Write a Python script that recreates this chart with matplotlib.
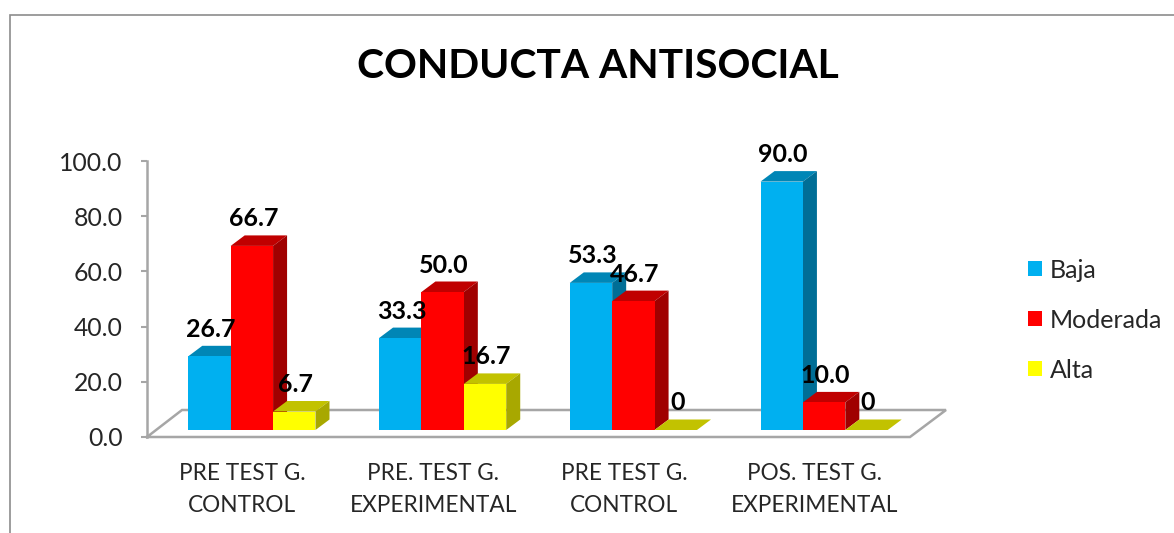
import matplotlib
matplotlib.use('Agg')
import matplotlib.pyplot as plt
from matplotlib.patches import Polygon, Patch
from matplotlib.lines import Line2D

plt.rcParams['font.family'] = ['Lato', 'DejaVu Sans']

categories = ['PRE TEST G.\nCONTROL', 'PRE. TEST G.\nEXPERIMENTAL',
              'PRE TEST G.\nCONTROL', 'POS. TEST G.\nEXPERIMENTAL']
baja = [26.7, 33.3, 53.3, 90.0]
moderada = [66.7, 50.0, 46.7, 10.0]
alta = [6.7, 16.7, 0, 0]
yticks = [0, 20, 40, 60, 80, 100]

# front, top, side colours
colors = {
    'Baja': ('#00B0F0', '#0086B6', '#006E96'),
    'Moderada': ('#FF0000', '#C00000', '#A00000'),
    'Alta': ('#FFFF00', '#C2C200', '#A8A800'),
}

W, H = 1174, 533
fig = plt.figure(figsize=(W / 100, H / 100), dpi=100)

# axes box in pixels
left, right, top, bottom = 147, 910, 161, 437
ax = fig.add_axes([left / W, 1 - bottom / H, (right - left) / W, (bottom - top) / H])
ax.set_xlim(-0.5, 3.5)
ax.set_ylim(0, 100)

px_x = 4 / (right - left)
px_y = 100 / (bottom - top)

GRAY = '#A6A6A6'
for s in ['top', 'right', 'bottom']:
    ax.spines[s].set_visible(False)
ax.spines['left'].set_color(GRAY)
ax.spines['left'].set_linewidth(1.8)

# floor of the fake 3d box
xl, xr = ax.get_xlim()
floor_x = [xl, xr, xr + 36 * px_x, xl + 35 * px_x, xl]
floor_y = [0, 0, 27 * px_y, 27 * px_y, 0]
ax.plot(floor_x, floor_y, color=GRAY, lw=1.8, clip_on=False, zorder=1, solid_joinstyle='miter')

ax.set_yticks(yticks)
ax.set_yticklabels(['%.1f' % v for v in yticks], fontsize=17.8, color='#262626')
ax.tick_params(axis='y', length=4.5, width=1.5, color=GRAY, pad=13)
ax.set_xticks(range(len(categories)))
ax.set_xticklabels(categories, fontsize=16.3, color='#262626', linespacing=1.6)
ax.tick_params(axis='x', length=0, pad=19)

bar_w = 42.4 * px_x
dx = 14 * px_x
dy = 10.5 * px_y
base = 7 * px_y
first = (188.3 - 242.4) * px_x

series = [('Baja', baja), ('Moderada', moderada), ('Alta', alta)]
for j, (name, vals) in enumerate(series):
    front, topc, side = colors[name]
    for i, v in enumerate(vals):
        x0 = i + first + j * bar_w
        x1 = x0 + bar_w
        y0 = base
        y1 = base + v
        z = 3 + j
        ax.add_patch(Polygon([(x0, y1), (x1, y1), (x1 + dx, y1 + dy), (x0 + dx, y1 + dy)],
                             fc=topc, ec='none', clip_on=False, zorder=z))
        if v > 0:
            ax.add_patch(Polygon([(x1, y0), (x1 + dx, y0 + dy), (x1 + dx, y1 + dy), (x1, y1)],
                                 fc=side, ec='none', clip_on=False, zorder=z))
            ax.add_patch(Polygon([(x0, y0), (x1, y0), (x1, y1), (x0, y1)],
                                 fc=front, ec='none', clip_on=False, zorder=z))
        label = '%.1f' % v if v > 0 else '0'
        ax.annotate(label, (x0 + bar_w / 2, y1), xytext=(1, 27 * 0.72), textcoords='offset points',
                    ha='center', va='center', fontsize=18, fontweight='bold', color='black',
                    zorder=10, annotation_clip=False)

fig.text(598 / W, 1 - 67 / H, 'CONDUCTA ANTISOCIAL', ha='center', va='center',
         fontsize=29.3, fontweight='bold', color='black')

handles = [Patch(fc=colors[n][0], ec='none', label=n) for n, _ in series]
fig.legend(handles=handles, loc='center left', bbox_to_anchor=(1028 / W, 1 - 320 / H),
           frameon=False, fontsize=18, handlelength=0.56, handleheight=0.56, handletextpad=0.32,
           labelspacing=1.08, borderpad=0, borderaxespad=0, labelcolor='#262626')

# outer frame of the chart area
fig.add_artist(Line2D([10 / W, 10 / W, 1], [0, 1 - 15 / H, 1 - 15 / H], color='#8C8C8C', lw=1.2,
                      transform=fig.transFigure, solid_joinstyle='miter'))

fig.savefig('out.png', dpi=100)
